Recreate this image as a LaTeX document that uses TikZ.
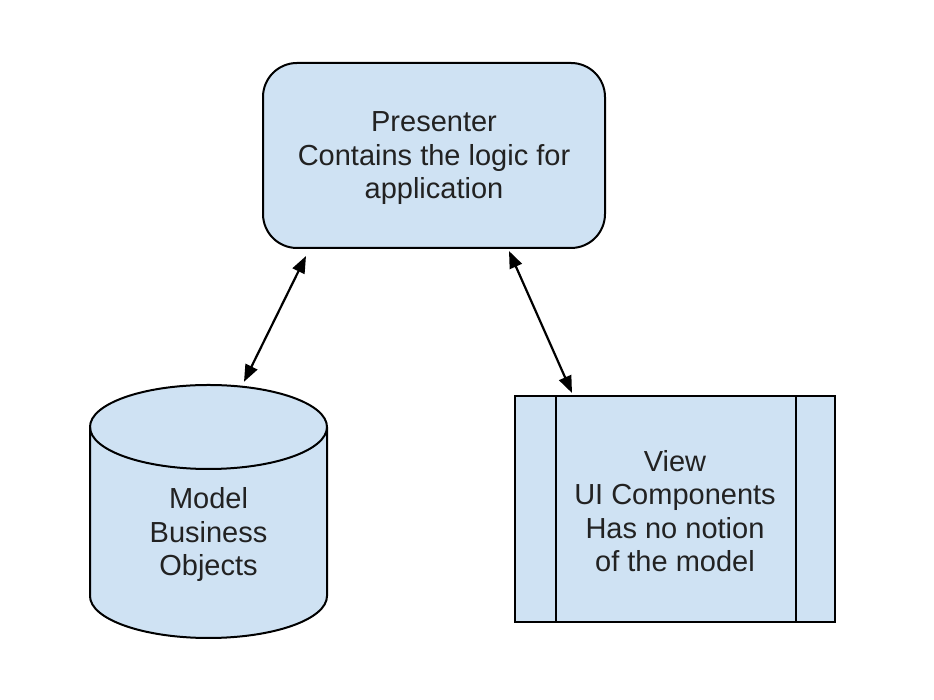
\documentclass[tikz,border=0pt]{standalone}
\usepackage{fontspec}
\setmainfont{Liberation Sans}
\usetikzlibrary{arrows.meta,calc}
\definecolor{boxfill}{HTML}{CFE2F3}
\definecolor{txt}{HTML}{222222}
\tikzset{
  shapebox/.style={draw=black, fill=boxfill, line width=2pt},
  lbl/.style={align=center, text=txt, font=\fontsize{29}{33.5}\selectfont, inner sep=0pt},
  link/.style={line width=2.2pt, {Triangle[length=17pt,width=13pt]}-{Triangle[length=17pt,width=13pt]}}
}
\begin{document}
\begin{tikzpicture}[x=1pt,y=1pt]
\useasboundingbox (0,0) rectangle (934,700);
% Presenter
\node[shapebox, rounded corners=34pt, minimum width=342pt, minimum height=185pt] (presenter) at (434,544.5) {};
\node[lbl] (presentertext) at (434,541.5) {Presenter\\Contains the logic for\\application};
% Model cylinder
\path[shapebox] (90,273) -- (90,104) arc[start angle=180, end angle=360, x radius=118.5, y radius=42]
  -- (327,273) arc[start angle=0, end angle=180, x radius=118.5, y radius=42] -- cycle;
\draw[line width=2pt] (90,273) arc[start angle=180, end angle=360, x radius=118.5, y radius=42];
\node[minimum width=237pt, minimum height=253pt, inner sep=0pt] (cyl) at (208.5,188.5) {};
\node[lbl] (model) at (208.5,165) {Model\\Business\\Objects};
% View
\node[shapebox, minimum width=320pt, minimum height=226pt, inner sep=0pt] (view) at (675,191) {};
\draw[line width=2pt] (556,78) -- (556,304) (796,78) -- (796,304);
\node[lbl] (viewtext) at (675,189) {View\\UI Components\\Has no notion\\of the model};
% Connectors
\draw[link] ($(presenter.south west)+(44,-7)$) -- ($(cyl.north)+(35.5,3)$);
\draw[link] ($(presenter.south)+(75,-2)$) -- ($(view.north west)+(58,2)$);
\end{tikzpicture}
\end{document}
